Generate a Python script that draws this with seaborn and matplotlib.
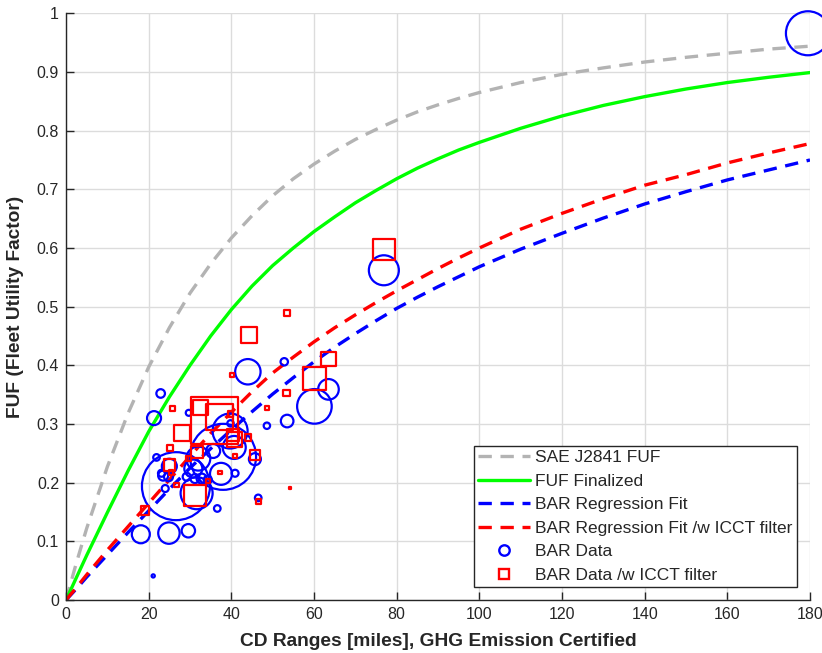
import numpy as np
import pandas as pd
import matplotlib
matplotlib.use("Agg")
import matplotlib.pyplot as plt
from matplotlib.lines import Line2D
import seaborn as sns

# ---------------- curves ----------------
cd_range = [0, 2.5, 5, 10, 15, 20, 25, 30, 35, 40, 45, 50, 55, 60, 65, 70, 75, 80, 85, 90, 95,
            100, 110, 120, 130, 140, 150, 160, 170, 180]
sae_fuf = [0, 0.063, 0.122, 0.227, 0.318, 0.397, 0.464, 0.523, 0.573, 0.617, 0.655, 0.689, 0.718,
           0.743, 0.765, 0.785, 0.802, 0.818, 0.832, 0.844, 0.855,
           0.865, 0.882, 0.896, 0.907, 0.917, 0.925, 0.932, 0.939, 0.944]
fuf_final = [0, 0.038, 0.076, 0.149, 0.22, 0.287, 0.346, 0.40, 0.45, 0.495, 0.535, 0.57, 0.60,
             0.628, 0.653, 0.677, 0.698, 0.718, 0.736, 0.752, 0.767,
             0.78, 0.804, 0.825, 0.843, 0.858, 0.871, 0.882, 0.891, 0.899]
bar_fit = [0, 0.019, 0.039, 0.077, 0.115, 0.152, 0.189, 0.225, 0.258, 0.29, 0.321, 0.351, 0.379,
           0.406, 0.431, 0.454, 0.476, 0.497, 0.516, 0.534, 0.551,
           0.568, 0.598, 0.625, 0.651, 0.675, 0.696, 0.716, 0.733, 0.75]
icct_fit = [0, 0.021, 0.043, 0.085, 0.125, 0.165, 0.205, 0.245, 0.284, 0.32, 0.355, 0.387, 0.414,
            0.44, 0.464, 0.486, 0.507, 0.527, 0.546, 0.565, 0.583,
            0.60, 0.632, 0.659, 0.684, 0.707, 0.725, 0.745, 0.762, 0.778]

# ---------------- BAR data (x, FUF, relative marker radius) ----------------
bar_x = [179.5, 76.9, 44.0, 52.8, 63.5, 60.1, 53.5, 48.6, 22.9, 21.3, 29.7, 39.8,
         26.6, 38.0, 39.7, 31.6, 32.0, 35.6, 40.7, 45.7, 37.5, 40.9, 30.8, 32.8,
         29.2, 25.0, 23.5, 24.0, 21.9, 36.6, 46.5, 18.1, 24.9, 29.6, 21.1, 23.1,
         31.2, 34.3, 24.8]
bar_y = [0.966, 0.562, 0.389, 0.406, 0.359, 0.330, 0.305, 0.297, 0.352, 0.310, 0.319, 0.301,
         0.194, 0.244, 0.288, 0.182, 0.241, 0.254, 0.260, 0.240, 0.215, 0.216, 0.224, 0.207,
         0.210, 0.228, 0.212, 0.190, 0.243, 0.156, 0.174, 0.112, 0.114, 0.118, 0.041, 0.216,
         0.207, 0.205, 0.210]
bar_w = [22, 15, 12.7, 3.7, 10.3, 17.3, 6.3, 3.2, 4.3, 7, 3, 3.2,
         34, 33, 17.5, 16, 12, 7, 11.5, 6, 11, 3.5, 9, 5,
         4, 7.5, 5, 3.5, 3.3, 3.3, 3.3, 9, 10.7, 6.7, 1.6, 3.5,
         4.5, 4, 4.5]

icct_x = [76.9, 44.2, 53.5, 63.5, 60.1, 40.1, 53.4, 48.6, 25.7, 32.6, 36.0, 37.2,
          28.0, 39.8, 40.7, 40.3, 44.0, 25.2, 31.6, 29.6, 45.7, 40.9, 25.0, 25.4,
          26.8, 34.4, 37.3, 31.2, 46.5, 19.1, 54.2]
icct_y = [0.597, 0.452, 0.489, 0.411, 0.378, 0.383, 0.353, 0.327, 0.326, 0.328, 0.306, 0.312,
          0.284, 0.317, 0.274, 0.281, 0.277, 0.259, 0.253, 0.241, 0.247, 0.245, 0.230, 0.217,
          0.196, 0.203, 0.217, 0.178, 0.168, 0.153, 0.191]
icct_w = [10.7, 8, 2.7, 7.3, 11.3, 2, 3.3, 2, 2.7, 7.3, 23.5, 13.3,
          8, 2.7, 7.3, 6, 3.3, 3.3, 6, 2.7, 5, 2, 5.7, 2.3,
          2.3, 2.3, 1.7, 10.7, 2.7, 4.3, 1.4]

curves = pd.DataFrame({"cd": cd_range, "sae": sae_fuf, "final": fuf_final,
                       "bar": bar_fit, "icct": icct_fit})
bar = pd.DataFrame({"cd": bar_x, "fuf": bar_y, "w": bar_w})
icct = pd.DataFrame({"cd": icct_x, "fuf": icct_y, "w": icct_w})
# radius in px -> scatter area in pt^2 (dpi 100)
bar["area"] = (1.44 * bar["w"]) ** 2
icct["area"] = (1.44 * icct["w"]) ** 2

sns.set_theme(style="white")
plt.rcParams["font.family"] = ["Liberation Sans", "DejaVu Sans"]

fig, ax = plt.subplots(figsize=(8.22, 6.53), dpi=100)
fig.subplots_adjust(left=0.0803, right=0.9854, top=0.9796, bottom=0.0812)

dash = (0, (4, 2.6))
sns.lineplot(data=curves, x="cd", y="sae", color="#b3b3b3", lw=2.4, linestyle=dash, ax=ax)
sns.lineplot(data=curves, x="cd", y="final", color="#00ff00", lw=2.4, ax=ax)
sns.lineplot(data=curves, x="cd", y="bar", color="#0000ff", lw=2.4, linestyle=dash, ax=ax)
sns.lineplot(data=curves, x="cd", y="icct", color="#ff0000", lw=2.4, linestyle=dash, ax=ax)

amin, amax = 1.0, 3000.0
sns.scatterplot(data=bar, x="cd", y="fuf", size="area", sizes=(amin, amax), size_norm=(amin, amax),
                marker="o", color="#0000ff", facecolor="none", edgecolor="#0000ff",
                linewidth=1.6, legend=False, clip_on=False, zorder=3, ax=ax)
sns.scatterplot(data=icct, x="cd", y="fuf", size="area", sizes=(amin, amax), size_norm=(amin, amax),
                marker="s", color="#ff0000", facecolor="none", edgecolor="#ff0000",
                linewidth=1.6, legend=False, clip_on=False, zorder=4, ax=ax)

ax.set_xlim(0, 180)
ax.set_ylim(0, 1)
ax.set_xticks(np.arange(0, 181, 20))
ax.set_yticks(np.arange(0, 1.01, 0.1))
ax.set_yticklabels(["0", "0.1", "0.2", "0.3", "0.4", "0.5", "0.6", "0.7", "0.8", "0.9", "1"])
ax.grid(True, color="#dcdcdc", lw=1.0)
ax.set_axisbelow(True)
for s in ["top", "right"]:
    ax.spines[s].set_visible(False)
for s in ["left", "bottom"]:
    ax.spines[s].set_color("#262626")
    ax.spines[s].set_linewidth(1.0)
ax.tick_params(direction="in", length=5.5, width=1.0, color="#262626",
               labelcolor="#262626", labelsize=11.5, left=True, bottom=True)
ax.tick_params(axis="x", pad=5)
ax.tick_params(axis="y", pad=5)

ax.set_xlabel("CD Ranges [miles], GHG Emission Certified", fontsize=13.8, fontweight="bold",
              color="#262626", labelpad=8)
ax.set_ylabel("FUF (Fleet Utility Factor)", fontsize=13.8, fontweight="bold",
              color="#262626", labelpad=9)

handles = [
    Line2D([], [], color="#b3b3b3", lw=2.4, linestyle=dash),
    Line2D([], [], color="#00ff00", lw=2.4),
    Line2D([], [], color="#0000ff", lw=2.4, linestyle=dash),
    Line2D([], [], color="#ff0000", lw=2.4, linestyle=dash),
    Line2D([], [], color="#0000ff", lw=0, marker="o", markersize=7.5, mfc="none", mew=1.7),
    Line2D([], [], color="#ff0000", lw=0, marker="s", markersize=6.5, mfc="none", mew=1.7),
]
labels = ["SAE J2841 FUF", "FUF Finalized", "BAR Regression Fit",
          "BAR Regression Fit /w ICCT filter", "BAR Data", "BAR Data /w ICCT filter"]
leg = ax.legend(handles, labels, loc="lower right", bbox_to_anchor=(0.9825, 0.022),
                fontsize=12.5, frameon=True, fancybox=False, framealpha=1,
                edgecolor="#262626", handlelength=3.0, handletextpad=0.3,
                labelspacing=0.48, borderpad=0.25, borderaxespad=0)
leg.get_frame().set_linewidth(1.0)
for t in leg.get_texts():
    t.set_color("#262626")

fig.savefig("out.png", dpi=100)
